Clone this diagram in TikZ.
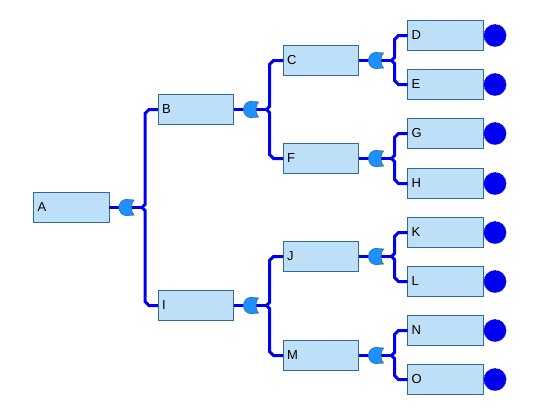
\documentclass[tikz,border=0pt]{standalone}
\usepackage{fontspec}
\setmainfont{Liberation Sans}
\usetikzlibrary{calc}
\definecolor{boxfill}{HTML}{BDE0F8}
\definecolor{boxline}{HTML}{336B94}
\definecolor{gatefill}{HTML}{1E90FF}
\definecolor{wirecol}{HTML}{0000F0}
\tikzset{
  x=1pt,y=-1pt,
  taskbox/.style={draw=boxline,line width=1pt,fill=boxfill,minimum height=30.5pt,
    text width=67.5pt,inner xsep=4pt,inner ysep=0pt,outer sep=0pt,align=left,
    text height=10pt,text depth=1.2pt,font=\fontsize{13}{15}\selectfont},
  wire/.style={draw=wirecol,line width=3pt,line join=miter},
  leaf/.style={circle,fill=wirecol,draw=wirecol,line width=.8pt,dash pattern=on 1.2pt off .8pt,
    minimum size=22pt,inner sep=0pt,outer sep=0pt},
  gateshape/.style={draw=boxline!70!gatefill,line width=.8pt,fill=gatefill},
}
% box: name, centre x, centre y, label
\newcommand{\tbox}[4]{\node[taskbox,minimum width=75.5pt] (#1) at (#2,#3) {#4};}
% leaf disc next to a box
\newcommand{\disc}[1]{\node[leaf] (#1d) at ($(#1.east)+(12,0)$) {};}
% fork: parent, upper child, lower child
\newcommand{\fork}[3]{%
  \coordinate (#1f) at ($(#1.east)+(33,0)$);
  \draw[wire] (#1.east) -- (#1f);
  \draw[wire] let \p1=(#1f), \p2=(#2.west) in
     (#1f) -- ++(3,-3) -- (\x1+3pt,\y2-4pt) -- (\x1+7pt,\y2) -- (#2.west);
  \draw[wire] let \p1=(#1f), \p2=(#3.west) in
     (#1f) -- ++(3,3) -- (\x1+3pt,\y2+4pt) -- (\x1+7pt,\y2) -- (#3.west);
  \coordinate (#1g) at ($(#1.east)+(10,0)$);
  \begin{scope}[shift={(#1g)}]
    \path[gateshape] (15,-7.5) -- (7,-8) .. controls (3,-8) and (0,-4) .. (0,0)
       .. controls (0,4) and (3,8) .. (7,8) -- (15,7.5)
       .. controls (11.5,5) and (11.5,-5) .. cycle;
  \end{scope}
}
\begin{document}
\begin{tikzpicture}
\useasboundingbox (0,0) rectangle (541,408);
\tbox{A}{71.25}{207.5}{A}
\tbox{B}{195.75}{109.5}{B}
\tbox{I}{195.75}{305.5}{I}
\tbox{C}{320.75}{60.5}{C}
\tbox{F}{320.75}{158.5}{F}
\tbox{J}{320.75}{256.5}{J}
\tbox{M}{320.75}{355.5}{M}
\tbox{D}{445.25}{35.5}{D}
\tbox{E}{445.25}{84.5}{E}
\tbox{G}{445.25}{133.5}{G}
\tbox{H}{445.25}{183.5}{H}
\tbox{K}{445.25}{232.5}{K}
\tbox{L}{445.25}{281.5}{L}
\tbox{N}{445.25}{330.5}{N}
\tbox{O}{445.25}{379.5}{O}
\disc{D}\disc{E}\disc{G}\disc{H}\disc{K}\disc{L}\disc{N}\disc{O}
\fork{A}{B}{I}
\fork{B}{C}{F}
\fork{I}{J}{M}
\fork{C}{D}{E}
\fork{F}{G}{H}
\fork{J}{K}{L}
\fork{M}{N}{O}
\end{tikzpicture}
\end{document}
